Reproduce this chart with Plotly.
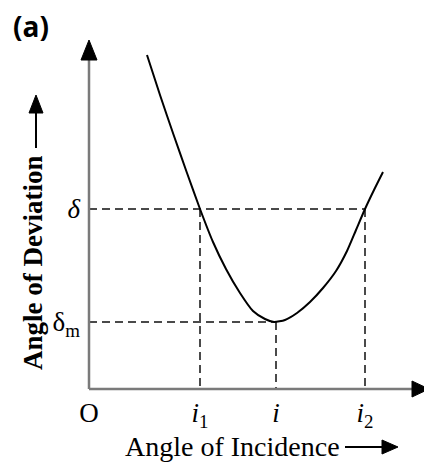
import plotly.graph_objects as go

# ---------------- data (schematic units) ----------------
x_tick_vals = [0, 111, 187, 276]
x_tick_text = ["O", "<i>i</i><sub>1</sub>", "<i>i</i>", "<i>i</i><sub>2</sub>"]
y_tick_vals = [67, 180]
y_tick_text = ["δ<sub>m</sub>", "<i>δ</i>"]

i1_val, i_val, i2_val = 111, 187, 276
delta_val, delta_m_val = 180, 67

curve_x = [58, 71, 85, 98, 111, 124, 137, 151, 164, 176, 185,
           196, 208, 221, 234, 247, 258, 267, 276, 285, 294]
curve_y = [334, 294, 253, 216, 180, 147, 120, 96, 78, 70, 67,
           69, 76, 87, 101, 118, 138, 159, 180, 199, 217]

# ---------------- layout constants ----------------
OFF = 8                  # page body margin
W, H = 432 - OFF, 462 - OFF
ML, MB = 86 - OFF, 70    # plot area starts 3 units left/below origin
XR = [-3, W - ML - 3]
YR = [-3, H - MB - 3]

def pxx(px):
    return (px - OFF - ML) / (W - ML)

def pxy(py):
    return (H - MB - (py - OFF)) / (H - MB)

AX = "#7a7a7a"
DASH = "#4a4a4a"

fig = go.Figure()

# dashed guide lines
dash_kw = dict(mode="lines", line=dict(color=DASH, width=2, dash="8px,5px"),
               hoverinfo="skip", showlegend=False)
fig.add_trace(go.Scatter(x=[0, i2_val], y=[delta_val, delta_val], **dash_kw))
fig.add_trace(go.Scatter(x=[i1_val, i1_val], y=[delta_val, 0], **dash_kw))
fig.add_trace(go.Scatter(x=[i2_val, i2_val], y=[delta_val, 0], **dash_kw))
fig.add_trace(go.Scatter(x=[0, i_val], y=[delta_m_val, delta_m_val], **dash_kw))
fig.add_trace(go.Scatter(x=[i_val, i_val], y=[delta_m_val, 0], **dash_kw))

# the deviation curve
fig.add_trace(go.Scatter(x=curve_x, y=curve_y, mode="lines",
                         line=dict(color="black", width=2, shape="spline", smoothing=0.6),
                         hoverinfo="skip", showlegend=False))

shapes = []
# axes lines (data coords)
y_top_base = 329
x_right_base = 323
shapes.append(dict(type="line", xref="x", yref="y", x0=0, y0=0, x1=0, y1=y_top_base,
                   line=dict(color=AX, width=2.5)))
shapes.append(dict(type="line", xref="x", yref="y", x0=0, y0=0, x1=x_right_base, y1=0,
                   line=dict(color=AX, width=2.5)))
# axis arrowheads (paper coords, so they are not clipped)
shapes.append(dict(type="path", xref="paper", yref="paper",
                   path=f"M {pxx(81)} {pxy(60)} L {pxx(89)} {pxy(40)} L {pxx(97)} {pxy(60)} Z",
                   fillcolor="black", line=dict(color="black", width=1)))
shapes.append(dict(type="path", xref="paper", yref="paper",
                   path=f"M {pxx(412)} {pxy(381)} L {pxx(429)} {pxy(389)} L {pxx(412)} {pxy(397)} Z",
                   fillcolor="black", line=dict(color="black", width=1)))

# title arrows (paper coords)
shapes.append(dict(type="line", xref="paper", yref="paper",
                   x0=pxx(36), y0=pxy(148), x1=pxx(36), y1=pxy(112),
                   line=dict(color="black", width=2)))
shapes.append(dict(type="path", xref="paper", yref="paper",
                   path=f"M {pxx(29)} {pxy(113)} L {pxx(36)} {pxy(95)} L {pxx(43)} {pxy(113)} Z",
                   fillcolor="black", line=dict(color="black", width=1)))
shapes.append(dict(type="line", xref="paper", yref="paper",
                   x0=pxx(345), y0=pxy(447), x1=pxx(383), y1=pxy(447),
                   line=dict(color="black", width=2)))
shapes.append(dict(type="path", xref="paper", yref="paper",
                   path=f"M {pxx(382)} {pxy(440)} L {pxx(398)} {pxy(447)} L {pxx(382)} {pxy(454)} Z",
                   fillcolor="black", line=dict(color="black", width=1)))

annotations = [
    dict(text="<b>(a)</b>", xref="paper", yref="paper", x=pxx(11), y=pxy(26),
         xanchor="left", yanchor="middle", showarrow=False,
         font=dict(family="Open Sans", size=28, color="black")),
    dict(text="<b>Angle of Deviation</b>", xref="paper", yref="paper", x=pxx(33), y=pxy(263),
         xanchor="center", yanchor="middle", textangle=-90, showarrow=False,
         font=dict(family="Liberation Serif", size=27, color="black")),
    dict(text="Angle of Incidence", xref="paper", yref="paper", x=pxx(232), y=pxy(446),
         xanchor="center", yanchor="middle", showarrow=False,
         font=dict(family="Liberation Serif", size=28, color="black")),
]

fig.update_layout(
    width=W, height=H,
    margin=dict(l=ML, r=0, t=0, b=MB, pad=0),
    paper_bgcolor="white", plot_bgcolor="white",
    shapes=shapes, annotations=annotations,
    showlegend=False,
    xaxis=dict(range=XR, showgrid=False, zeroline=False, showline=False, ticks="",
               tickmode="array", tickvals=x_tick_vals, ticktext=x_tick_text,
               tickfont=dict(family="Liberation Serif", size=27, color="black"),
               ticklabelstandoff=2, fixedrange=True),
    yaxis=dict(range=YR, showgrid=False, zeroline=False, showline=False, ticks="",
               tickmode="array", tickvals=y_tick_vals, ticktext=y_tick_text,
               tickfont=dict(family="Liberation Serif", size=27, color="black"),
               ticklabelstandoff=5, fixedrange=True),
)

fig.write_html("out.html", config={"displayModeBar": False})
